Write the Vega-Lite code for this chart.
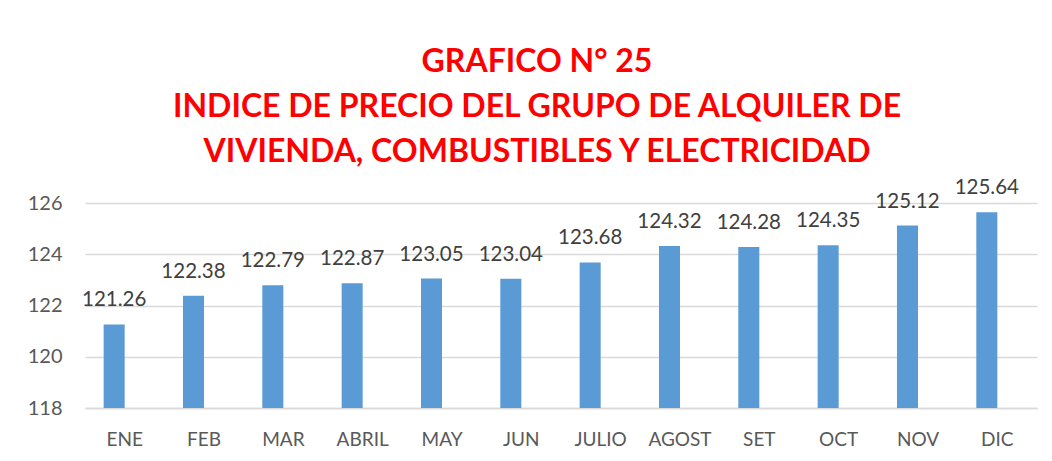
{
  "$schema": "https://vega.github.io/schema/vega-lite/v6.json",
  "autosize": {"type": "none"},
  "width": 952,
  "height": 205,
  "padding": {"left": 85, "top": 203, "right": 15, "bottom": 53},
  "background": "white",
  "config": {
    "view": {"stroke": null},
    "font": "Lato"
  },
  "title": {
    "text": ["GRAFICO N° 25", "INDICE DE PRECIO DEL GRUPO DE ALQUILER DE", "VIVIENDA, COMBUSTIBLES Y ELECTRICIDAD"],
    "color": "#FF0000",
    "font": "Lato",
    "fontSize": 32,
    "fontWeight": "bold",
    "lineHeight": 45,
    "anchor": "middle",
    "dx": -24,
    "offset": 9
  },
  "data": {
    "values": [
      {"mes": "ENE", "serie": "a", "valor": 121.26},
      {"mes": "FEB", "serie": "a", "valor": 122.38},
      {"mes": "MAR", "serie": "a", "valor": 122.79},
      {"mes": "ABRIL", "serie": "a", "valor": 122.87},
      {"mes": "MAY", "serie": "a", "valor": 123.05},
      {"mes": "JUN", "serie": "a", "valor": 123.04},
      {"mes": "JULIO", "serie": "a", "valor": 123.68},
      {"mes": "AGOST", "serie": "a", "valor": 124.32},
      {"mes": "SET", "serie": "a", "valor": 124.28},
      {"mes": "OCT", "serie": "a", "valor": 124.35},
      {"mes": "NOV", "serie": "a", "valor": 125.12},
      {"mes": "DIC", "serie": "a", "valor": 125.64}
    ]
  },
  "encoding": {
    "x": {
      "field": "mes",
      "type": "nominal",
      "sort": null,
      "scale": {"paddingInner": 0.47, "paddingOuter": 0.235},
      "axis": {
        "title": null,
        "labelAngle": 0,
        "ticks": false,
        "domainColor": "#D9D9D9",
        "domainWidth": 1.5,
        "labelColor": "#595959",
        "labelFontSize": 19,
        "labelPadding": 22,
        "labelFont": "Lato"
      }
    },
    "xOffset": {
      "field": "serie",
      "type": "nominal",
      "scale": {"domain": ["a", "b"], "paddingInner": 0, "paddingOuter": 0}
    },
    "y": {
      "field": "valor",
      "type": "quantitative",
      "scale": {"domain": [118, 126], "nice": false, "zero": false},
      "axis": {
        "title": null,
        "values": [118, 120, 122, 124, 126],
        "domain": false,
        "ticks": false,
        "gridColor": "#D9D9D9",
        "gridWidth": 1.5,
        "labelColor": "#595959",
        "labelFontSize": 20,
        "labelPadding": 23,
        "labelFont": "Lato"
      }
    }
  },
  "layer": [
    {
      "mark": {"type": "bar", "color": "#5B9BD5", "clip": true}
    },
    {
      "mark": {"type": "text", "baseline": "alphabetic", "dy": -18, "fontSize": 20.5, "color": "#404040", "font": "Lato"},
      "encoding": {
        "text": {"field": "valor", "type": "quantitative", "format": ".2f"}
      }
    }
  ]
}
